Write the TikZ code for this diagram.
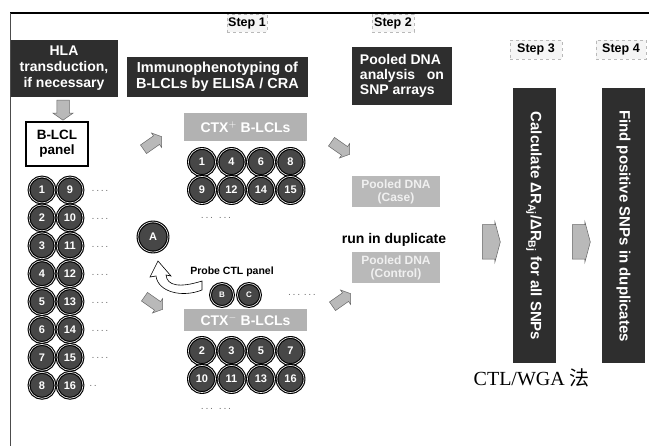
\documentclass[tikz,border=0pt]{standalone}
\usepackage{fontspec}
\setmainfont{Liberation Sans}
\newfontfamily\serifx{Liberation Serif}
\newfontfamily\cjk{Noto Sans CJK SC}
\usetikzlibrary{shapes.arrows}
\begin{document}
\begin{tikzpicture}[x=1pt,y=-1pt,
  darkbox/.style={fill=black!82, text=white, font=\bfseries\fontsize{14}{16}\selectfont, align=center, inner sep=0pt},
  stepbox/.style={fill=gray!8, draw=gray!55, dashed, line width=0.7pt, font=\bfseries\fontsize{12.5}{15}\selectfont, inner sep=0pt},
  graybox/.style={fill=gray!60, text=white, font=\bfseries\fontsize{14}{16}\selectfont, inner sep=0pt},
  poolbox/.style={fill=gray!55, text=gray!12, font=\bfseries\fontsize{12}{13.5}\selectfont, align=center, inner sep=0pt, minimum width=88pt, minimum height=31pt},
  bar/.style={fill=black!82, minimum width=43pt, minimum height=275pt, inner sep=0pt},
  bartext/.style={text=white, font=\bfseries\fontsize{15}{17}\selectfont, rotate=-90, inner sep=0pt},
  circ/.style={circle, fill=black!72, draw=black, double=gray!20, double distance=0.7pt, line width=1.1pt, minimum size=26pt, inner sep=0pt, text=white, font=\bfseries\fontsize{11}{11}\selectfont},
  barrow/.style={single arrow, fill=gray!55, draw=black!60, line width=0.5pt, inner xsep=0pt, inner ysep=5pt, minimum height=22pt, single arrow head extend=3.5pt, single arrow tip angle=110},
  rarrow/.style={single arrow, fill=gray!55, draw=black!60, line width=0.5pt, inner xsep=0pt, inner ysep=17pt, minimum height=18pt, single arrow head extend=3pt, single arrow tip angle=150},
  dotsx/.style={font=\bfseries\fontsize{7}{7}\selectfont, text=black!55, inner sep=0pt}
]
\useasboundingbox (0,0) rectangle (649,446);
% frame
\coordinate (fTL) at (10,13);
\coordinate (fTR) at (649,13);
\coordinate (fBL) at (10,446);
\draw[line width=1.5pt] (fTL) -- (fTR);
\draw[line width=0.8pt, black!70] (fTL) -- (fBL);

% step labels
\node[stepbox, minimum width=40pt, minimum height=18pt] (s1) at (247,23) {Step 1};
\node[stepbox, minimum width=42pt, minimum height=18pt] (s2) at (393,23) {Step 2};
\node[stepbox, minimum width=52pt, minimum height=19pt] (s3) at (536,49.5) {Step 3};
\node[stepbox, minimum width=50pt, minimum height=19pt] (s4) at (621,49.5) {Step 4};

% dark boxes
\node[darkbox, minimum width=107pt, minimum height=57pt] (hla) at (64,68.5) {HLA\\transduction,\\if necessary};
\node[darkbox, minimum width=181pt, minimum height=40pt, font=\bfseries\fontsize{14.5}{16}\selectfont] (imm) at (217.5,77) {Immunophenotyping of\\B-LCLs by ELISA / CRA};
\node[darkbox, minimum width=100pt, minimum height=58pt, align=left, font=\bfseries\fontsize{14}{15}\selectfont] (pda) at (402,76) {Pooled DNA\\analysis~~ on\\SNP arrays};

% down arrow
\node[barrow, rotate=-90, minimum height=20pt, inner ysep=6pt, single arrow head extend=4pt] (dn) at (63,108) {};

% B-LCL panel
\node[draw, line width=1.5pt, fill=white, minimum width=62pt, minimum height=44pt, align=center, inner sep=0pt, font=\bfseries\fontsize{13.5}{15}\selectfont] (panel) at (57,144) {B-LCL\\panel};

% left circles
\foreach \i in {0,...,7} {
  \pgfmathtruncatemacro{\a}{\i+1}
  \pgfmathtruncatemacro{\b}{\i+9}
  \node[circ] (L\a) at (42,190+27.9*\i) {\a};
  \node[circ] (L\b) at (70,190+27.9*\i) {\b};
}
\foreach \i in {0,...,6} {
  \node[dotsx] (ld\i) at (100,191+27.9*\i) {. . . .};
}
\node[dotsx] (ld7) at (93,386) {. .};

% CTX+ group
\node[graybox, minimum width=123pt, minimum height=28pt] (ctxp) at (245.5,127) {CTX$^{+}$ B-LCLs};
\foreach \n/\x/\y in {1/202/162, 4/231.5/162, 6/261/162, 8/290.5/162, 9/202/190, 12/231.5/190, 14/261/190, 15/290.5/190} {
  \node[circ, minimum size=27pt] (P\n) at (\x,\y) {\n};
}
\node[dotsx] (pd) at (216,218) {. . .\quad . . .};

% CTX- group
\node[graybox, minimum width=123pt, minimum height=22pt] (ctxm) at (245.5,320) {CTX$^{-}$ B-LCLs};
\foreach \n/\x/\y in {2/202/351, 3/231.5/351, 5/261/351, 7/290.5/351, 10/202/379, 11/231.5/379, 13/261/379, 16/290.5/379} {
  \node[circ, minimum size=27pt] (M\n) at (\x,\y) {\n};
}
\node[dotsx] (md) at (216,409) {. . .\quad . . .};

% probe CTL
\node[circ, minimum size=30pt] (cA) at (153,237) {A};
\node[font=\bfseries\fontsize{10.5}{12}\selectfont, inner sep=0pt] (probe) at (232,272) {Probe CTL panel};
\node[circ, minimum size=23pt, font=\bfseries\fontsize{8}{8}\selectfont] (cB) at (222,295) {B};
\node[circ, minimum size=23pt, font=\bfseries\fontsize{8}{8}\selectfont] (cC) at (249,295) {C};
\node[dotsx] (cd) at (302,295) {. . .\; . . .};

% curved arrow to A
\draw[fill=white, line width=0.6pt] (202,281) .. controls (180,288) and (167,286) .. (166,275)
  -- (171,276) -- (158,261) -- (150,277) -- (156,276)
  .. controls (158,292) and (182,298) .. (202,290) -- cycle;

% diagonal arrows
\node[barrow, rotate=35] (aul) at (151,144) {};
\node[barrow, rotate=-35] (all) at (152,302) {};
\node[barrow, rotate=-35] (aur) at (339,147) {};
\node[barrow, rotate=35] (alr) at (340,301) {};

% pooled DNA boxes
\node[poolbox] (case) at (396,192) {Pooled DNA\\(Case)};
\node[font=\bfseries\fontsize{14}{16}\selectfont, inner sep=0pt] (dup) at (394,240) {run in duplicate};
\node[poolbox] (ctrl) at (396,268) {Pooled DNA\\(Control)};

% right arrows
\node[rarrow] (r1) at (489,242) {};
\node[rarrow] (r2) at (579,242) {};

% bars
\node[bar] (b3) at (534,226) {};
\node[bartext] (t3) at (b3.center) {Calculate ΔR\textsubscript{Aj}/ΔR\textsubscript{Bj} for all SNPs};
\node[bar] (b4) at (623.5,226) {};
\node[bartext] (t4) at (b4.center) {Find positive SNPs in duplicates};

% caption
\node[anchor=base east, inner sep=0pt, font=\fontsize{20}{24}\selectfont] (cap) at (590,386) {\serifx CTL/WGA {\cjk 法}};
\end{tikzpicture}
\end{document}
